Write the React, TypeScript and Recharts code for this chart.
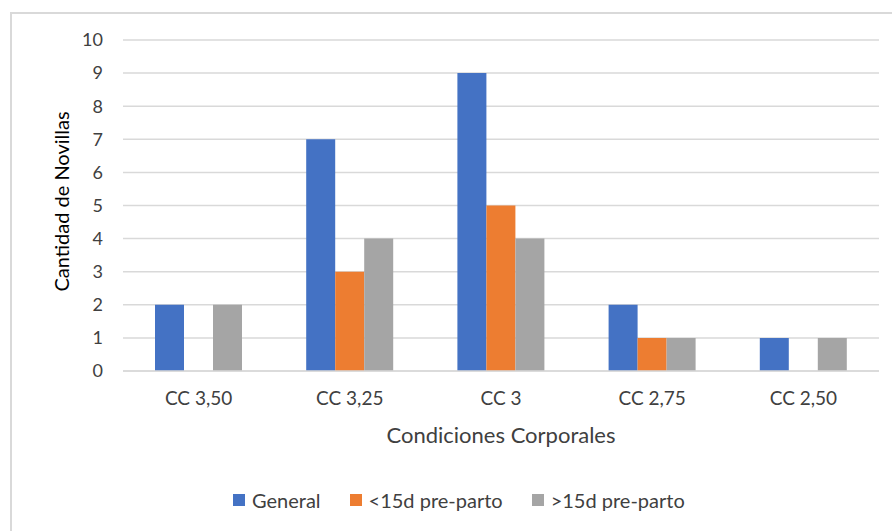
import { BarChart, Bar, XAxis, YAxis, CartesianGrid, Legend } from "recharts";

const categories = ["CC 3,50", "CC 3,25", "CC 3", "CC 2,75", "CC 2,50"];
const general = [2, 7, 9, 2, 1];
const menos15 = [0, 3, 5, 1, 0];
const mas15 = [2, 4, 4, 1, 1];
const yTicks = [0, 1, 2, 3, 4, 5, 6, 7, 8, 9, 10];

const series = [
  { key: "general", name: "General", color: "#4472C4" },
  { key: "menos15", name: "<15d pre-parto", color: "#ED7D31" },
  { key: "mas15", name: ">15d pre-parto", color: "#A5A5A5" },
];

const data = categories.map((cat, i) => ({
  cat,
  general: general[i],
  menos15: menos15[i],
  mas15: mas15[i],
}));

const FONT = "Lato, 'Open Sans', sans-serif";

function LegendBox() {
  return (
    <div style={{ display: "flex", paddingLeft: 233, fontFamily: FONT, fontSize: 20, color: "#404040", lineHeight: "24px" }}>
      {series.map((s) => (
        <div key={s.key} style={{ display: "flex", alignItems: "center", marginRight: 29 }}>
          <span style={{ width: 12, height: 12, background: s.color, marginRight: 7, display: "inline-block" }} />
          <span>{s.name}</span>
        </div>
      ))}
    </div>
  );
}

export default function App() {
  return (
    <div style={{ position: "absolute", left: 0, top: 0, width: 892, height: 531, background: "#fff", overflow: "hidden" }}>
      <div
        style={{
          position: "absolute",
          left: 10,
          top: 12,
          width: 1000,
          height: 1000,
          borderLeft: "2px solid #d9d9d9",
          borderTop: "2px solid #d9d9d9",
        }}
      />
      <BarChart
        width={892}
        height={531}
        data={data}
        margin={{ top: 40, right: 13, left: 0, bottom: 0 }}
        barCategoryGap={32}
        barGap={0}
        style={{ position: "absolute", left: 0, top: 0 }}
      >
        <CartesianGrid vertical={false} stroke="#d9d9d9" strokeWidth={1.5} />
        <XAxis
          dataKey="cat"
          height={160}
          tickLine={false}
          tickSize={0}
          tickMargin={21}
          axisLine={{ stroke: "#d9d9d9", strokeWidth: 1.5 }}
          tick={{ fill: "#404040", fontSize: 19, fontFamily: FONT }}
          label={{
            value: "Condiciones Corporales",
            position: "insideTop",
            offset: 56,
            fill: "#404040",
            fontSize: 22,
            fontFamily: FONT,
          }}
        />
        <YAxis
          width={123}
          domain={[0, 10]}
          ticks={yTicks}
          interval={0}
          axisLine={false}
          tickLine={false}
          tickSize={0}
          tickMargin={20}
          tick={{ fill: "#404040", fontSize: 18, fontFamily: FONT }}
          label={{
            value: "Cantidad de Novillas",
            angle: -90,
            position: "insideLeft",
            offset: 62,
            dy: -4,
            style: { textAnchor: "middle" },
            fill: "#000",
            fontSize: 20,
            fontFamily: FONT,
          }}
        />
        <Legend
          verticalAlign="middle"
          align="center"
          content={() => <LegendBox />}
          wrapperStyle={{ top: 488, left: 0, width: 892 }}
        />
        {series.map((s) => (
          <Bar key={s.key} dataKey={s.key} name={s.name} fill={s.color} isAnimationActive={false} />
        ))}
      </BarChart>
    </div>
  );
}
